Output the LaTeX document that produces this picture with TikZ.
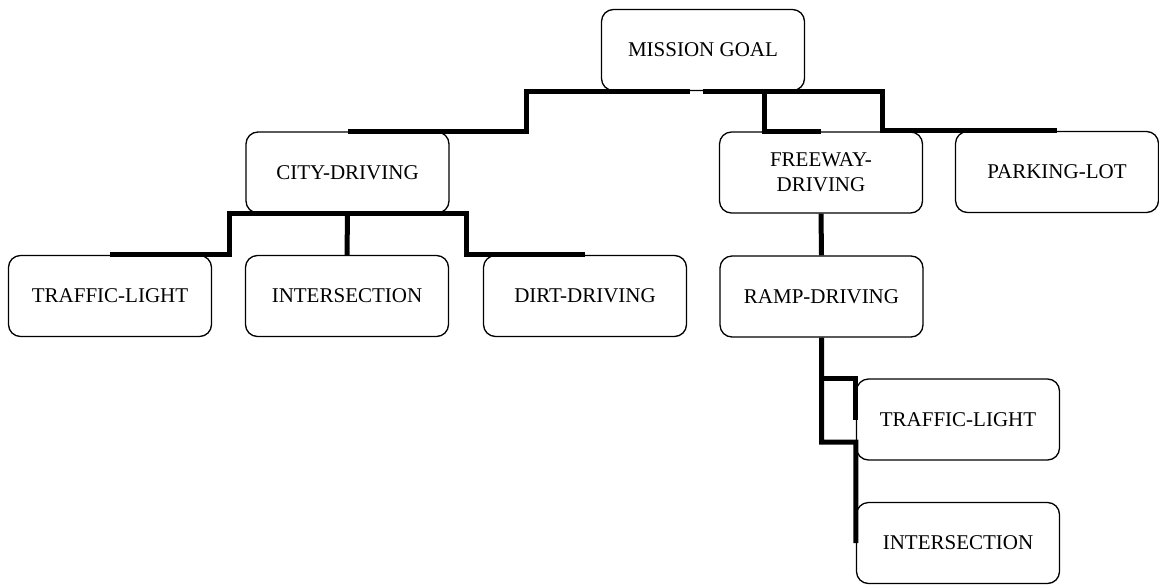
\documentclass[tikz,border=0pt]{standalone}
\usepackage{fontspec}
\setmainfont{Liberation Serif}
\usetikzlibrary{calc}

\tikzset{
  task/.style={draw=black, line width=1.3pt, rounded corners=12pt,
    minimum width=203pt, minimum height=81pt, inner sep=0pt,
    align=center, font=\fontsize{21}{25}\selectfont},
  link/.style={draw=black, line width=5pt, line cap=butt, line join=miter}
}

\begin{document}
\begin{tikzpicture}[x=1pt, y=-1pt]
  \useasboundingbox[fill=white] (0,0) rectangle (1159,584);

  % goal hierarchy
  \node[task] (mg)    at (703,50)    {MISSION GOAL};
  \node[task] (city)  at (347.5,172.5) {CITY-DRIVING};
  \node[task] (free)  at (821,172.5) {FREEWAY-\\DRIVING};
  \node[task] (park)  at (1057,172)  {PARKING-LOT};
  \node[task] (tl1)   at (110,296)   {TRAFFIC-LIGHT};
  \node[task] (int1)  at (347,296)   {INTERSECTION};
  \node[task] (dirt)  at (585,296)   {DIRT-DRIVING};
  \node[task] (ramp)  at (821.5,296.5) {RAMP-DRIVING};
  \node[task] (tl2)   at (958,419.5) {TRAFFIC-LIGHT};
  \node[task] (int2)  at (958,543)   {INTERSECTION};

  % links from the mission goal
  \draw[link] ([xshift=-13pt]mg.south) -- ++(-164pt,0) |- (city.north);
  \draw[link] (mg.south) -- ++(61pt,0) |- (free.north);
  \draw[link] (mg.south) -- ++(179pt,0) |- (park.north);

  % city-driving subtasks
  \draw[link] (city.south) -- ++(-118.5pt,0) |- (tl1.north);
  \draw[link] (city.south) -- (int1.north);
  \draw[link] (city.south) -- ++(119pt,0) |- (dirt.north);

  % freeway-driving subtasks
  \draw[link] (free.south) -- (ramp.north);
  \draw[link] (ramp.south) |- (tl2.north west) -- (tl2.west);
  \draw[link] (ramp.south) |- ($(tl2.west)!0.55!(tl2.south west)$) -- (int2.west);
\end{tikzpicture}
\end{document}
